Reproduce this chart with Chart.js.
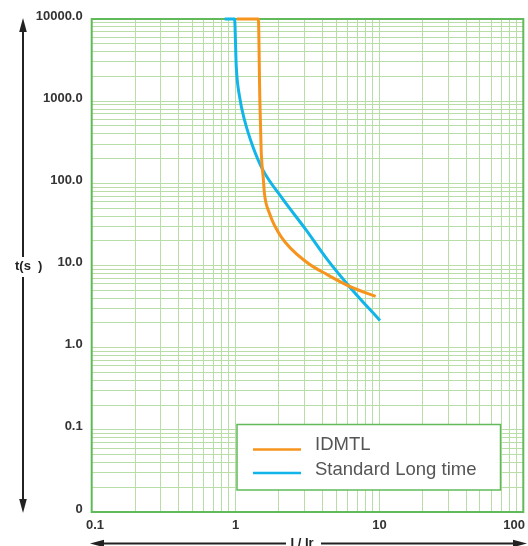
<!DOCTYPE html>
<html><head><meta charset="utf-8">
<script src="https://cdn.jsdelivr.net/npm/chart.js@4.4.1/dist/chart.umd.min.js"></script>
<style>html,body{margin:0;padding:0;background:#fff;overflow:hidden}canvas{display:block}</style>
</head><body>
<canvas id="c" width="528" height="546" style="width:528px;height:546px"></canvas>
<script>
// ---- data ----
const seriesNames = ['IDMTL', 'Standard Long time'];
const idmtlX = [1.02, 1.44, 1.475, 1.506, 1.53, 1.555, 1.587, 1.72, 2.07, 3.09, 4.36, 6.32, 9.41];
const idmtlY = [10000, 10000, 1035, 255, 160, 121, 75.6, 43.3, 22.5, 11.1, 7.7, 5.5, 4.2];
const sltX = [0.84, 0.984, 1.011, 1.066, 1.154, 1.32, 1.547, 2.07, 3.09, 4.36, 6.32, 10.08];
const sltY = [10000, 10000, 2630, 1135, 590, 279, 146, 68.9, 27.1, 11.7, 5.3, 2.14];
const xTickValues = [0.1, 1, 10, 100];
const xTickLabels = ['0.1', '1', '10', '100'];
const yTickValues = [0.01, 0.1, 1, 10, 100, 1000, 10000];
const yTickLabels = ['0', '0.1', '1.0', '10.0', '100.0', '1000.0', '10000.0'];
const xTitle = 'I / Ir';
const yTitle = 't(s  )';

const FONT = '"Liberation Sans", Arial, Helvetica, sans-serif';
const GRID = 'rgb(184,221,166)';
const FRAME = 'rgb(96,186,90)';
const ORANGE = '#F7941D';
const BLUE = '#12B5EA';

function toPts(xs, ys) { return xs.map((x, i) => ({x: x, y: ys[i]})); }
function sameVal(a, b) { return Math.abs(Math.log10(a) - Math.log10(b)) < 1e-6; }
function labelFor(v, vals, labs) {
  for (let i = 0; i < vals.length; i++) if (sameVal(v, vals[i])) return labs[i];
  return '';
}
function logGridTicks(scale) {
  const t = [];
  const e0 = Math.round(Math.log10(scale.min)), e1 = Math.round(Math.log10(scale.max));
  for (let e = e0; e <= e1; e++) {
    for (let k = 1; k <= 9; k++) {
      const v = parseFloat((k * Math.pow(10, e)).toPrecision(6));
      if (v >= scale.min * 0.9999 && v <= scale.max * 1.0001) t.push({value: v});
    }
  }
  scale.ticks = t;
}

const frame = {
  id: 'frame',
  beforeDraw(chart) {
    try {
      const xs = chart.scales.x;
      const items = xs.getLabelItems();
      items.forEach(it => {
        if (it.label === xTickLabels[xTickLabels.length - 1]) {
          it.options.textAlign = 'right';
          it.options.translation[0] = 525;
        } else if (it.label === xTickLabels[0]) {
          it.options.textAlign = 'left';
          it.options.translation[0] = 86;
        }
      });
    } catch (e) {}
  },
  beforeDatasetsDraw(chart) {
    const {ctx, chartArea: a} = chart;
    ctx.save();
    ctx.strokeStyle = FRAME;
    ctx.lineWidth = 2;
    ctx.strokeRect(a.left, a.top, a.right - a.left, a.bottom - a.top);
    ctx.restore();
  },
  afterDatasetsDraw(chart) {
    const ctx = chart.ctx;
    ctx.save();
    // legend box
    ctx.fillStyle = '#fff';
    ctx.fillRect(237, 424.5, 263.5, 65.5);
    ctx.strokeStyle = FRAME;
    ctx.lineWidth = 1.5;
    ctx.strokeRect(237, 424.5, 263.5, 65.5);
    const lineY = [449.5, 473];
    const textY = [450, 475];
    chart.data.datasets.forEach((ds, i) => {
      ctx.strokeStyle = ds.borderColor;
      ctx.lineWidth = 2.5;
      ctx.beginPath();
      ctx.moveTo(253, lineY[i]);
      ctx.lineTo(301, lineY[i]);
      ctx.stroke();
      ctx.fillStyle = '#555555';
      ctx.font = '18.5px ' + FONT;
      ctx.textAlign = 'left';
      ctx.textBaseline = 'alphabetic';
      ctx.fillText(ds.label, 315, textY[i]);
    });
    ctx.restore();
  },
  afterDraw(chart) {
    const ctx = chart.ctx;
    ctx.save();
    ctx.strokeStyle = '#222';
    ctx.fillStyle = '#222';
    ctx.lineWidth = 2;
    // y axis arrow
    ctx.beginPath();
    ctx.moveTo(23, 30); ctx.lineTo(23, 257);
    ctx.moveTo(23, 277); ctx.lineTo(23, 502);
    ctx.stroke();
    ctx.beginPath();
    ctx.moveTo(23, 18); ctx.lineTo(19.2, 32); ctx.lineTo(26.8, 32); ctx.closePath(); ctx.fill();
    ctx.beginPath();
    ctx.moveTo(23, 513); ctx.lineTo(19.2, 499); ctx.lineTo(26.8, 499); ctx.closePath(); ctx.fill();
    ctx.font = 'bold 13px ' + FONT;
    ctx.textAlign = 'left';
    ctx.textBaseline = 'middle';
    ctx.fillText(yTitle, 15, 266);
    // x axis arrow
    ctx.beginPath();
    ctx.moveTo(100, 543.5); ctx.lineTo(286, 543.5);
    ctx.moveTo(321, 543.5); ctx.lineTo(516, 543.5);
    ctx.stroke();
    ctx.beginPath();
    ctx.moveTo(90, 543.5); ctx.lineTo(104, 539.8); ctx.lineTo(104, 547.2); ctx.closePath(); ctx.fill();
    ctx.beginPath();
    ctx.moveTo(527, 543.5); ctx.lineTo(513, 539.8); ctx.lineTo(513, 547.2); ctx.closePath(); ctx.fill();
    ctx.textAlign = 'center';
    ctx.fillText(xTitle, 302, 543);
    ctx.restore();
  }
};

new Chart(document.getElementById('c'), {
  type: 'line',
  data: {
    datasets: [
      {label: seriesNames[0], data: toPts(idmtlX, idmtlY), borderColor: ORANGE, backgroundColor: ORANGE,
       borderWidth: 3, pointRadius: 0, cubicInterpolationMode: 'monotone', fill: false, clip: 4},
      {label: seriesNames[1], data: toPts(sltX, sltY), borderColor: BLUE, backgroundColor: BLUE,
       borderWidth: 3, pointRadius: 0, cubicInterpolationMode: 'monotone', fill: false, clip: 4}
    ]
  },
  options: {
    responsive: false,
    animation: false,
    devicePixelRatio: 1,
    layout: {padding: {top: 19, right: 4.7, bottom: 0, left: 0}},
    plugins: {legend: {display: false}, tooltip: {enabled: false}},
    scales: {
      x: {
        type: 'logarithmic', min: 0.1, max: 100,
        afterBuildTicks: logGridTicks,
        afterFit(s) { s.height = 34; s.paddingLeft = 0; s.paddingRight = 0; },
        grid: {color: GRID, lineWidth: 1, drawTicks: false},
        border: {display: false},
        ticks: {
          autoSkip: false, maxRotation: 0, minRotation: 0, padding: 6,
          color: '#333', font: {family: FONT, size: 13, weight: 'bold'},
          callback: (v) => labelFor(v, xTickValues, xTickLabels)
        }
      },
      y: {
        type: 'logarithmic', min: 0.01, max: 10000,
        afterBuildTicks: logGridTicks,
        afterFit(s) { s.width = 91.7; s.paddingTop = 0; s.paddingBottom = 0; },
        grid: {color: GRID, lineWidth: 1, drawTicks: false},
        border: {display: false},
        ticks: {
          autoSkip: false, padding: 9, labelOffset: -3,
          color: '#333', font: {family: FONT, size: 13, weight: 'bold'},
          callback: (v) => labelFor(v, yTickValues, yTickLabels)
        }
      }
    }
  },
  plugins: [frame]
});
</script>
</body></html>
